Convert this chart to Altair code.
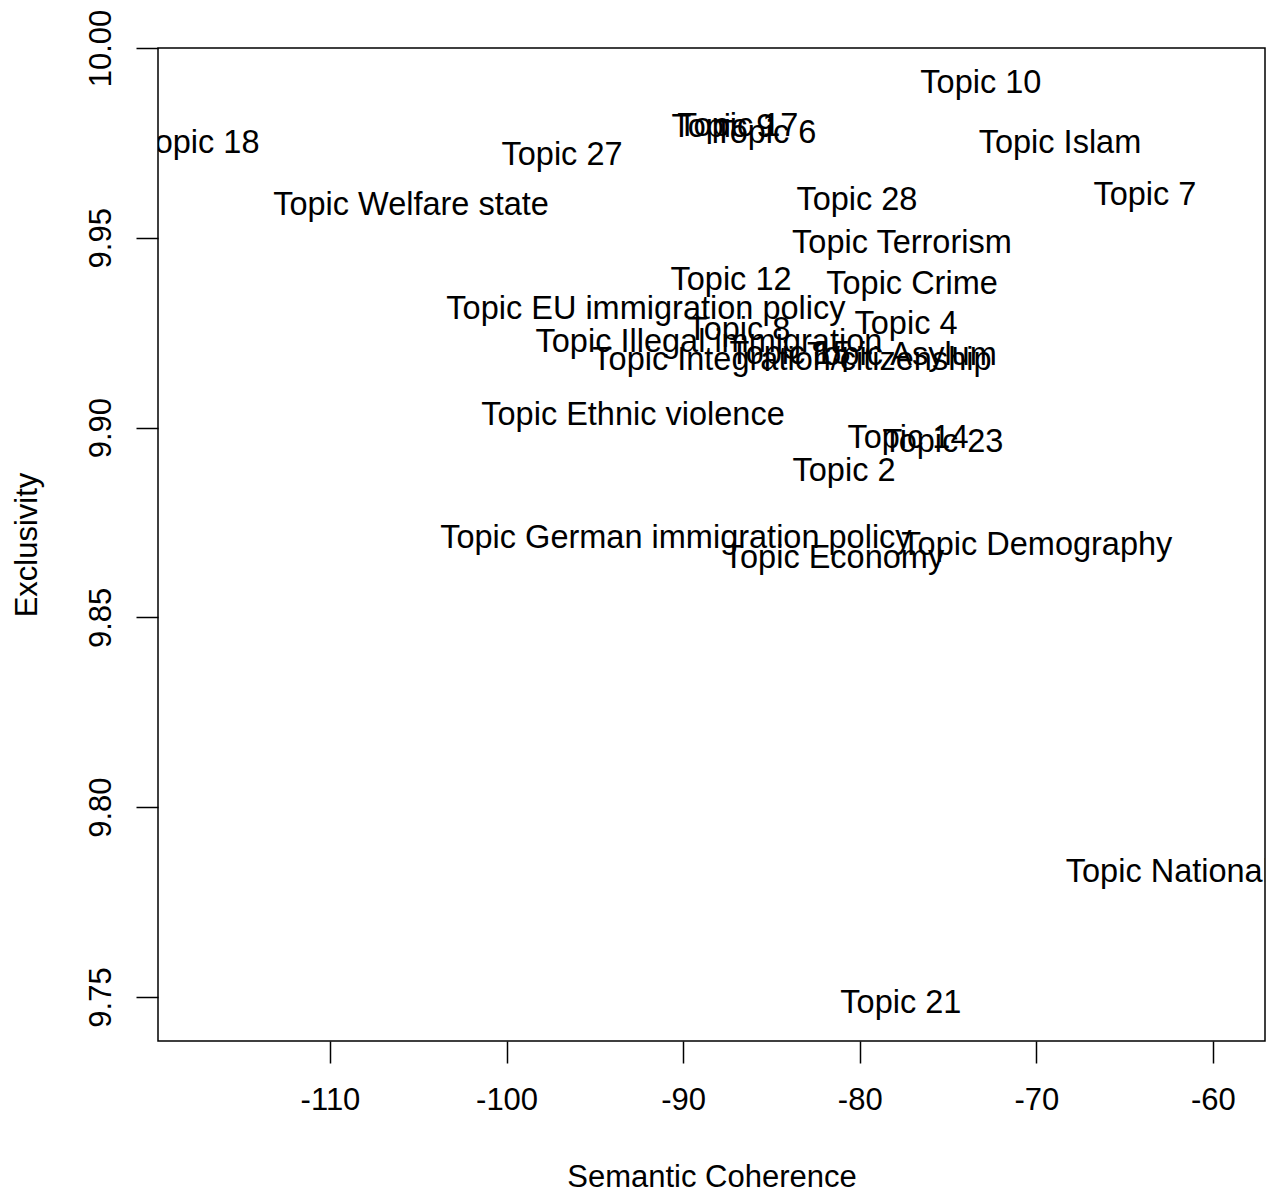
import altair as alt
import pandas as pd

labels = [
    "Topic 10", "Topic Islam", "Topic 7", "Topic 18", "Topic 27",
    "Topic 9", "Topic 17", "Topic 6", "Topic Welfare state", "Topic 28",
    "Topic Terrorism", "Topic 12", "Topic Crime", "Topic EU immigration policy",
    "Topic 4", "Topic 8", "Topic Illegal immigration", "Topic 15",
    "Topic Asylum", "Topic Integration/citizenship", "Topic Ethnic violence",
    "Topic 14", "Topic 23", "Topic 2", "Topic German immigration policy",
    "Topic Economy", "Topic Demography", "Topic National identity", "Topic 21",
]
coherence = [
    -73.14, -68.66, -63.85, -117.42, -96.86,
    -87.75, -86.90, -85.37, -105.41, -80.16,
    -77.61, -87.29, -77.04, -92.11,
    -77.38, -86.84, -88.54, -83.95,
    -77.61, -83.84, -92.84,
    -77.27, -75.29, -80.89, -90.41,
    -81.46, -69.97, -59.38, -77.67,
]
exclusivity = [
    9.9908, 9.9750, 9.9613, 9.9750, 9.9718,
    9.9792, 9.9795, 9.9776, 9.9586, 9.9600,
    9.9486, 9.9389, 9.9378, 9.9312,
    9.9273, 9.9257, 9.9225, 9.9194,
    9.9191, 9.9178, 9.9033,
    9.8973, 9.8962, 9.8886, 9.8709,
    9.8656, 9.8691, 9.7829, 9.7484,
]
x_ticks = [-110, -100, -90, -80, -70, -60]
y_ticks = [9.75, 9.80, 9.85, 9.90, 9.95, 10.00]

df = pd.DataFrame({"label": labels, "coherence": coherence, "exclusivity": exclusivity})

FONT = "Liberation Sans"

chart = alt.Chart(df).mark_text(
    fontSize=32.5, font=FONT, color="black", clip=True,
    align="center", baseline="middle",
).encode(
    x=alt.X(
        "coherence:Q",
        scale=alt.Scale(domain=[-119.74, -57.05], nice=False, zero=False),
        axis=alt.Axis(
            values=x_ticks, title="Semantic Coherence", grid=False, domain=False,
            tickColor="black", tickSize=22, tickWidth=1.5,
            labelFont=FONT, labelFontSize=31, labelColor="black", labelPadding=22,
            labelExpr="'' + datum.value", labelFlush=False, labelOverlap=False,
            titleFont=FONT, titleFontSize=31, titleFontWeight="normal", titleColor="black",
            titlePadding=47,
        ),
    ),
    y=alt.Y(
        "exclusivity:Q",
        scale=alt.Scale(domain=[9.7384, 10.0], nice=False, zero=False),
        axis=alt.Axis(
            values=y_ticks, title="Exclusivity", grid=False, domain=False,
            tickColor="black", tickSize=22, tickWidth=1.5,
            labelFont=FONT, labelFontSize=31, labelColor="black", labelPadding=26,
            labelExpr="format(datum.value, '.2f')", labelFlush=False, labelOverlap=False,
            labelAngle=270, labelAlign="center", labelBaseline="alphabetic",
            titleFont=FONT, titleFontSize=31, titleFontWeight="normal", titleColor="black",
            titlePadding=42,
        ),
    ),
    text="label:N",
).properties(
    width=1107, height=993,
    autosize=alt.AutoSizeParams(type="none"),
    padding={"left": 150, "top": 40, "right": 8, "bottom": 160},
).configure(
    background="white",
).configure_view(
    stroke="black", strokeWidth=1.5,
)

chart.save("out.html", embed_options={"renderer": "svg", "actions": False})
